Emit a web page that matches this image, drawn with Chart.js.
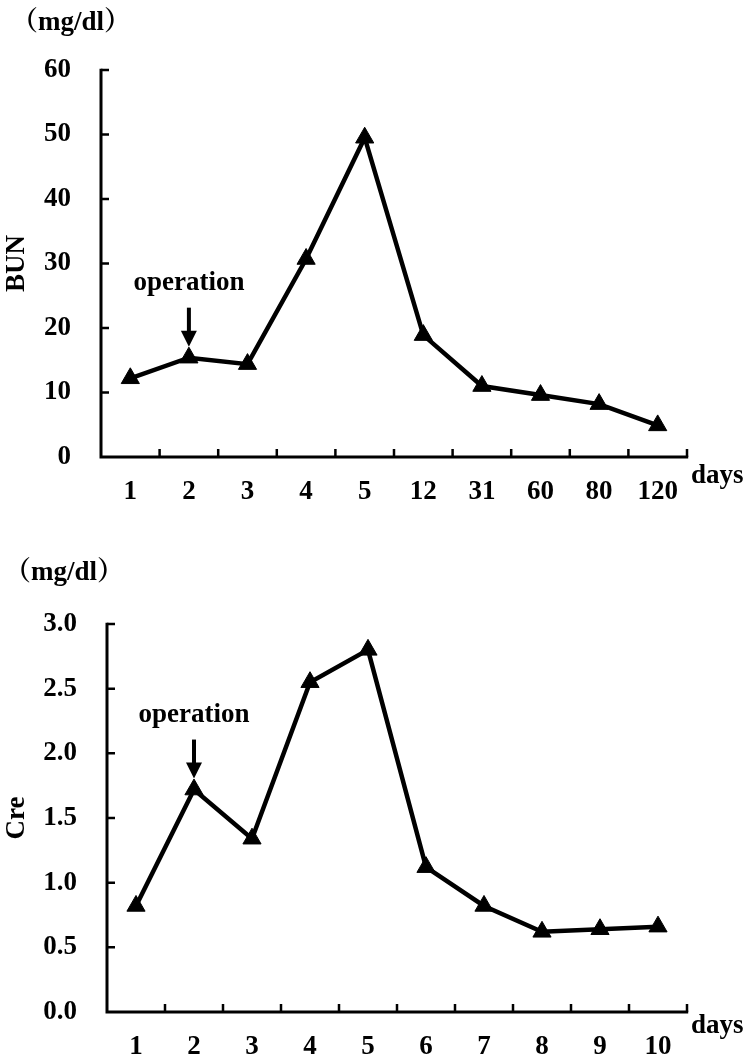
<!DOCTYPE html>
<html><head><meta charset="utf-8">
<script src="https://cdn.jsdelivr.net/npm/chart.js@4.4.1/dist/chart.umd.min.js"></script>
<style>
html,body{margin:0;padding:0;background:#fff;}
#wrap{position:relative;width:747px;height:1060px;overflow:hidden;}
.box{position:absolute;left:0;width:747px;height:530px;}
</style></head><body>
<div id="wrap">
<div class="box" style="top:0"><canvas id="c1" width="747" height="530"></canvas></div>
<div class="box" style="top:530px"><canvas id="c2" width="747" height="530"></canvas></div>
</div>
<script>
// ---- data ----
const bunDays = ['1','2','3','4','5','12','31','60','80','120'];
const bunValues = [12.2, 15.4, 14.4, 30.7, 49.5, 18.9, 11.0, 9.6, 8.2, 4.9];
const creDays = ['1','2','3','4','5','6','7','8','9','10'];
const creValues = [0.82, 1.72, 1.34, 2.55, 2.80, 1.12, 0.82, 0.62, 0.64, 0.66];
const bunTicks = [0, 10, 20, 30, 40, 50, 60];
const creTicks = [0, 0.5, 1.0, 1.5, 2.0, 2.5, 3.0];
const unitText = '（mg/dl）';
const xAxisText = 'days';
const noteText = 'operation';
const operationDay = '2';

const FAMILY = '"Liberation Serif","Times New Roman","Noto Serif CJK JP","Noto Sans CJK JP",serif';
const fontStr = s => 'bold ' + s + 'px ' + FAMILY;

const paperPlugin = {
  id: 'paper',
  beforeDatasetsDraw(chart, args, o) {
    const {ctx, chartArea: a, scales: {x, y}} = chart;
    ctx.save();
    ctx.strokeStyle = '#000';
    ctx.lineWidth = 3;
    ctx.beginPath();
    ctx.moveTo(a.left, a.top - 1.2);
    ctx.lineTo(a.left, a.bottom);
    ctx.lineTo(a.right + 1.2, a.bottom);
    ctx.stroke();
    ctx.lineWidth = 2.5;
    ctx.beginPath();
    y.ticks.forEach(t => {
      const py = y.getPixelForValue(t.value);
      if (Math.abs(py - a.bottom) < 1) return;
      ctx.moveTo(a.left, py);
      ctx.lineTo(a.left + 8, py);
    });
    const n = x.getLabels().length;
    for (let i = 0; i < n; i++) {
      const px = i < n - 1 ? (x.getPixelForValue(i) + x.getPixelForValue(i + 1)) / 2 : a.right;
      ctx.moveTo(px, a.bottom);
      ctx.lineTo(px, a.bottom - 8);
    }
    ctx.stroke();
    ctx.restore();
  },
  afterDraw(chart, args, o) {
    const {ctx, chartArea: a, scales: {x, y}} = chart;
    ctx.save();
    ctx.fillStyle = '#000';
    ctx.strokeStyle = '#000';
    ctx.font = fontStr(27);
    ctx.textAlign = 'left';
    ctx.textBaseline = 'middle';
    ctx.fillText(unitText, o.unitX, o.unitY);
    ctx.textBaseline = 'alphabetic';
    ctx.fillText(xAxisText, a.right + 4, a.bottom + o.daysDy);
    const labels = x.getLabels();
    const idx = labels.indexOf(operationDay);
    const vals = chart.data.datasets[0].data;
    const px = x.getPixelForValue(idx);
    const py = y.getPixelForValue(vals[idx]);
    const tip = py - 11;
    ctx.lineWidth = 4;
    ctx.beginPath();
    ctx.moveTo(px, tip - 39);
    ctx.lineTo(px, tip - 13);
    ctx.stroke();
    ctx.beginPath();
    ctx.moveTo(px - 8, tip - 16);
    ctx.lineTo(px + 8, tip - 16);
    ctx.lineTo(px, tip);
    ctx.closePath();
    ctx.fill();
    ctx.textAlign = 'center';
    ctx.textBaseline = 'alphabetic';
    ctx.fillText(noteText, px, tip - 57);
    ctx.restore();
  }
};

function makeChart(id, days, values, ticks, title, geo, fmt) {
  const tickFont = {family: FAMILY, weight: 'bold', size: 27};
  return new Chart(document.getElementById(id), {
    type: 'line',
    data: {
      labels: days,
      datasets: [{
        data: values,
        borderColor: '#000',
        borderWidth: 4.5,
        tension: 0,
        pointStyle: 'triangle',
        pointRadius: 10.5,
        pointBackgroundColor: '#000',
        pointBorderColor: '#000',
        pointBorderWidth: 1,
        clip: false
      }]
    },
    options: {
      responsive: false,
      animation: false,
      devicePixelRatio: 1,
      layout: {padding: {top: geo.top, right: 60, left: 0, bottom: 0}},
      plugins: {
        legend: {display: false},
        tooltip: {enabled: false},
        paper: {unitX: geo.unitX, unitY: geo.unitY, daysDy: geo.daysDy}
      },
      scales: {
        x: {
          type: 'category',
          offset: true,
          grid: {display: false, drawTicks: false},
          border: {display: false},
          ticks: {color: '#000', font: tickFont, padding: 19, maxRotation: 0, autoSkip: false},
          afterFit: s => { s.height = 530 - geo.bottom; }
        },
        y: {
          min: ticks[0],
          max: ticks[ticks.length - 1],
          grid: {display: false, drawTicks: false},
          border: {display: false},
          ticks: {color: '#000', font: tickFont, padding: 30, stepSize: ticks[1] - ticks[0],
                  callback: v => fmt(v)},
          title: {display: true, text: title, color: '#000', font: tickFont, padding: {top: 1, bottom: 0}},
          afterFit: s => { s.width = geo.left; }
        }
      }
    },
    plugins: [paperPlugin]
  });
}

makeChart('c1', bunDays, bunValues, bunTicks, 'BUN',
  {top: 70, bottom: 457, left: 101, unitX: 11, unitY: 23, daysDy: 26},
  v => String(v));
makeChart('c2', creDays, creValues, creTicks, 'Cre',
  {top: 94, bottom: 482, left: 107, unitX: 4, unitY: 43, daysDy: 21},
  v => Number(v).toFixed(1));
</script>
</body></html>
